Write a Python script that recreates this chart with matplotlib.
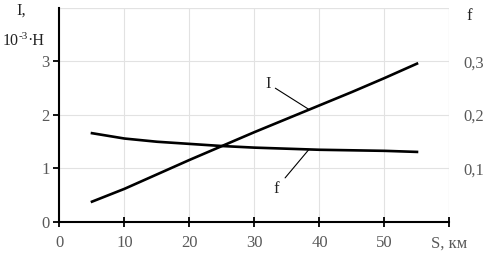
import matplotlib
matplotlib.use('Agg')
import matplotlib.pyplot as plt

# Data
s = [5, 10, 15, 20, 25, 30, 35, 40, 45, 50, 55]
current = [0.38, 0.62, 0.89, 1.16, 1.42, 1.68, 1.93, 2.18, 2.43, 2.69, 2.96]
friction = [0.166, 0.156, 0.150, 0.146, 0.142, 0.139, 0.137, 0.135, 0.134, 0.133, 0.131]

x_ticks = [0, 10, 20, 30, 40, 50, 60]
x_labels = ['0', '10', '20', '30', '40', '50', 'S, км']
y_ticks = [0, 1, 2, 3]
f_ticks = [0.1, 0.2, 0.3]
f_labels = ['0,1', '0,2', '0,3']

plt.rcParams['font.family'] = ['Liberation Serif', 'DejaVu Serif']
tick_color = '#595959'
text_color = '#222222'

fig = plt.figure(figsize=(4.9, 2.57), dpi=100)
ax = fig.add_axes([0.1214, 0.1362, 0.7959, 0.8327])
ax.set_xlim(0, 60)
ax.set_ylim(0, 4)
ax.set_xticks(x_ticks)
ax.set_xticklabels(x_labels)
ax.set_yticks(y_ticks)
ax.grid(True, color='#e2e2e2', linewidth=0.8)
ax.set_axisbelow(True)
for side in ['top', 'right']:
    ax.spines[side].set_visible(False)
for side in ['left', 'bottom']:
    ax.spines[side].set_linewidth(1.5)
ax.tick_params(axis='x', direction='inout', length=7, width=1.3, labelsize=12,
               labelcolor=tick_color, pad=6)
ax.tick_params(axis='y', direction='out', length=4, width=1.3, labelsize=12,
               labelcolor=tick_color, pad=3)
# top border line of the grid
ax.axhline(4, color='#e2e2e2', linewidth=1.6, zorder=0)
ax.axvline(60, color='#e2e2e2', linewidth=0.8, zorder=0)

ax.plot(s, current, color='black', linewidth=1.9)

ax2 = ax.twinx()
ax2.set_ylim(0, 0.4)
ax2.set_yticks(f_ticks)
ax2.set_yticklabels(f_labels)
for side in ax2.spines:
    ax2.spines[side].set_visible(False)
ax2.tick_params(axis='y', length=0, labelsize=12, labelcolor=tick_color, pad=10)
ax2.plot(s, friction, color='black', linewidth=1.9)

# curve labels with leader lines
ax.annotate('I', xy=(38.3, 2.11), xytext=(32.6, 2.58), fontsize=12, color=text_color,
            ha='right', va='center',
            arrowprops=dict(arrowstyle='-', color='black', linewidth=0.8,
                            shrinkA=1, shrinkB=0))
ax2.annotate('f', xy=(38.3, 0.1345), xytext=(33.3, 0.062), fontsize=12, color=text_color,
             ha='center', va='center',
             arrowprops=dict(arrowstyle='-', color='black', linewidth=0.8,
                             shrinkA=4, shrinkB=0))

# axis captions
fig.text(21 / 490, 1 - 11 / 257, 'I,', fontsize=12, color=text_color, ha='center', va='center')
fig.text(3 / 490, 1 - 41 / 257, '10', fontsize=11.5, color=text_color, ha='left', va='center')
fig.text(19 / 490, 1 - 37 / 257, '-3', fontsize=8, color=text_color, ha='left', va='center')
fig.text(27 / 490, 1 - 41 / 257, '·Н', fontsize=11.5, color=text_color, ha='left', va='center')
fig.text(469 / 490, 1 - 16 / 257, 'f', fontsize=12, color=text_color, ha='center', va='center')

fig.savefig('out.png', dpi=100)
